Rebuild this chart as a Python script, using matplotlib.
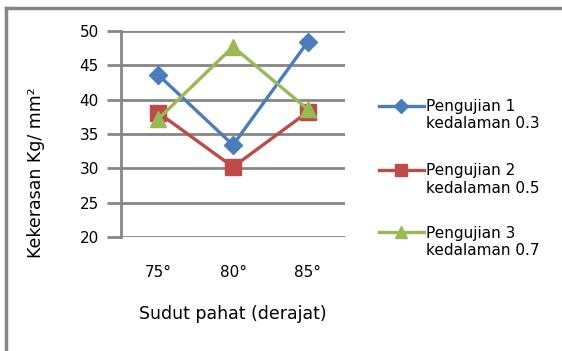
import matplotlib
matplotlib.use('Agg')
import matplotlib.pyplot as plt
from matplotlib.lines import Line2D

## Data
sudut = ['75°', '80°', '85°']
uji1 = [43.6, 33.4, 48.4]   # kedalaman 0.3
uji2 = [38.1, 30.2, 38.2]   # kedalaman 0.5
uji3 = [37.2, 47.7, 38.6]   # kedalaman 0.7
nama = ['Pengujian 1', 'Pengujian 2', 'Pengujian 3']
kedalaman = ['kedalaman 0.3', 'kedalaman 0.5', 'kedalaman 0.7']

plt.rcParams['font.family'] = ['DejaVu Sans']
fs = 11

grey = '#868686'
fig = plt.figure(figsize=(5.62, 3.51), dpi=100)
ax = fig.add_axes([0.2153, 0.3248, 0.3987, 0.5869])

x = range(len(sudut))
l1, = ax.plot(x, uji1, color='#4a7ebb', lw=2.4, marker='D', ms=9.5)
l2, = ax.plot(x, uji2, color='#be4b48', lw=2.4, marker='s', ms=12)
l3, = ax.plot(x, uji3, color='#98b954', lw=2.4, marker='^', ms=12)

ax.set_xlim(-0.5, 2.5)
ax.set_ylim(20, 50)
ax.set_xticks(list(x))
ax.set_xticklabels(sudut, fontsize=fs)
ax.set_yticks(range(20, 51, 5))
ax.set_yticklabels([str(v) for v in range(20, 51, 5)], fontsize=fs)
ax.yaxis.grid(True, color=grey, lw=2)
ax.set_axisbelow(True)
for s in ['top', 'right', 'bottom']:
    ax.spines[s].set_visible(False)
ax.spines['left'].set_color(grey)
ax.spines['left'].set_linewidth(2)
ax.tick_params(axis='y', length=10, width=2, color=grey, pad=6)
ax.tick_params(axis='x', length=0, pad=20)

ax.set_xlabel('Sudut pahat (derajat)', fontsize=12.5, labelpad=18)
fig.text(0.064, 0.507, 'Kekerasan Kg/ mm²', rotation=90, ha='center', va='center',
         fontsize=12.5)

# legend: marker on first line, second line below it
blank = Line2D([], [], lw=0, marker=None)
handles, labels = [], []
for h, n, k in zip([l1, l2, l3], nama, kedalaman):
    handles += [h, blank]
    labels += [n, k]
leg = fig.legend(handles, labels, loc='upper left', bbox_to_anchor=(0.66, 0.74),
                 frameon=False, handlelength=3.0, labelspacing=0.15,
                 handletextpad=0.1, fontsize=fs, borderpad=0)
leg.legend_handles[0].set_markersize(7)
leg.legend_handles[2].set_markersize(9)
leg.legend_handles[4].set_markersize(9)
texts = leg.get_texts()
texts[1].set_text(kedalaman[0] + '\n')
texts[3].set_text(kedalaman[1] + '\n')
texts[1].set_linespacing(2.25)
texts[3].set_linespacing(2.05)

# outer chart border (left and top only visible)
fig.add_artist(Line2D([0.011, 0.011], [0.0, 0.977], color=grey, lw=2.5))
fig.add_artist(Line2D([0.011, 0.998], [0.977, 0.977], color=grey, lw=2.5))

fig.savefig('out.png', dpi=100)
